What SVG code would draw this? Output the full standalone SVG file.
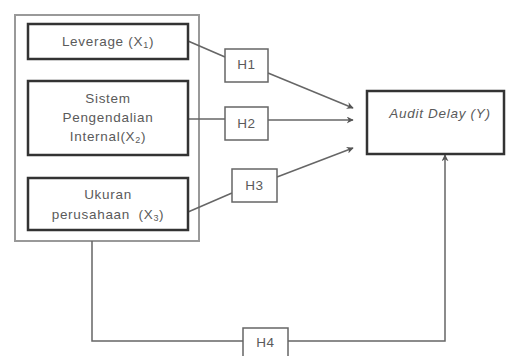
<svg xmlns="http://www.w3.org/2000/svg" width="508" height="356" viewBox="0 0 508 356">
<style>
.t{font-family:"Liberation Sans",Arial,sans-serif;font-size:13.5px;fill:#5a5a5a;text-anchor:middle;letter-spacing:0.7px}
.sub{font-size:9px}
.var{fill:#fff;stroke:#333;stroke-width:2.5}
.hyp{fill:#fff;stroke:#666;stroke-width:1.5}
.con{fill:none;stroke:#666;stroke-width:1.5}
</style>
<defs>
<marker id="arr" viewBox="0 0 10 10" refX="9" refY="5" markerWidth="7" markerHeight="7" orient="auto" markerUnits="userSpaceOnUse">
<path d="M0,0 L10,5 L0,10 L3,5 Z" fill="#555"/>
</marker>
</defs>
<rect id="container" x="15" y="15" width="184" height="226" fill="#fff" stroke="#999" stroke-width="2"/>
<g id="connectors">
<path class="con" d="M188,41 L225,57"/>
<path class="con" d="M268,73 L353,108" marker-end="url(#arr)"/>
<path class="con" d="M188,119 L225,119"/>
<path class="con" d="M268,120 L353,120" marker-end="url(#arr)"/>
<path class="con" d="M188,212 L232,193"/>
<path class="con" d="M277,177 L353,148" marker-end="url(#arr)"/>
<path class="con" d="M92,241 L92,341 L445,341 L445,155" marker-end="url(#arr)"/>
</g>
<g id="x1">
<rect class="var" x="28" y="24" width="160" height="35"/>
<text class="t" x="108" y="46">Leverage (X<tspan class="sub" dy="2">1</tspan><tspan dy="-2">)</tspan></text>
</g>
<g id="x2">
<rect class="var" x="28" y="81" width="160" height="74"/>
<text class="t" x="108" y="103">Sistem</text>
<text class="t" x="108" y="122">Pengendalian</text>
<text class="t" x="108" y="141">Internal(X<tspan class="sub" dy="2">2</tspan><tspan dy="-2">)</tspan></text>
</g>
<g id="x3">
<rect class="var" x="28" y="178" width="160" height="52"/>
<text class="t" x="108" y="199">Ukuran</text>
<text class="t" x="108" y="219">perusahaan <tspan dx="4">(X</tspan><tspan class="sub" dy="2">3</tspan><tspan dy="-2">)</tspan></text>
</g>
<g id="y">
<rect x="367" y="91" width="137" height="63" fill="#fff" stroke="#333" stroke-width="2.5"/>
<text class="t" x="440" y="118" font-style="italic">Audit Delay (Y)</text>
</g>
<g id="h1">
<rect class="hyp" x="225" y="49" width="43" height="33"/>
<text class="t" x="246.5" y="69">H1</text>
</g>
<g id="h2">
<rect class="hyp" x="225" y="107" width="43" height="33"/>
<text class="t" x="246.5" y="128">H2</text>
</g>
<g id="h3">
<rect class="hyp" x="232" y="169" width="45" height="33"/>
<text class="t" x="254.5" y="190">H3</text>
</g>
<g id="h4">
<rect class="hyp" x="243" y="328" width="45" height="34"/>
<text class="t" x="265.5" y="347">H4</text>
</g>
</svg>
